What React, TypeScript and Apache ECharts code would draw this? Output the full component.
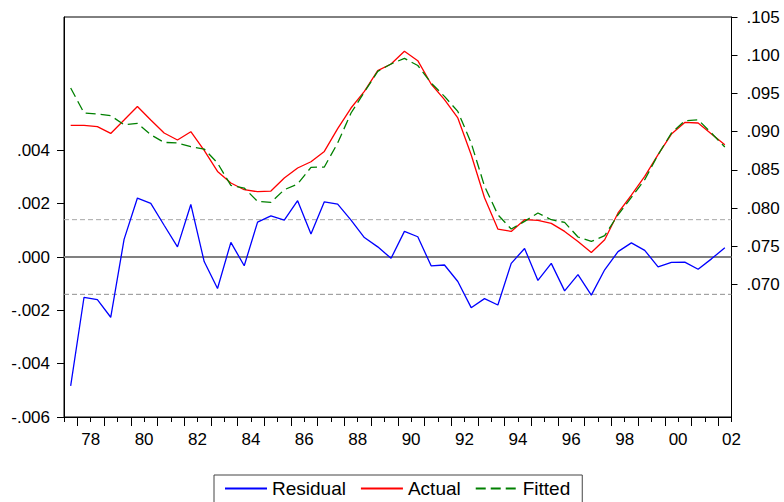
import React, { useEffect, useRef } from "react";
import * as echarts from "echarts";

const periods = [
  "1977H2", "1978H1", "1978H2", "1979H1", "1979H2", "1980H1", "1980H2", "1981H1", "1981H2", "1982H1",
  "1982H2", "1983H1", "1983H2", "1984H1", "1984H2", "1985H1", "1985H2", "1986H1", "1986H2", "1987H1",
  "1987H2", "1988H1", "1988H2", "1989H1", "1989H2", "1990H1", "1990H2", "1991H1", "1991H2", "1992H1",
  "1992H2", "1993H1", "1993H2", "1994H1", "1994H2", "1995H1", "1995H2", "1996H1", "1996H2", "1997H1",
  "1997H2", "1998H1", "1998H2", "1999H1", "1999H2", "2000H1", "2000H2", "2001H1", "2001H2", "2002H1",
];

const residual = [
  -0.00483, -0.00151, -0.0016, -0.00226, 0.00066, 0.00221, 0.00201, 0.00119, 0.00038, 0.00197,
  -0.00017, -0.00118, 0.00055, -0.00033, 0.00131, 0.00154, 0.00138, 0.00211, 0.00086, 0.00207,
  0.00198, 0.00138, 0.00073, 0.00038, -0.00005, 0.00096, 0.00076, -0.00033, -0.0003, -0.00092,
  -0.0019, -0.00156, -0.0018, -0.00024, 0.00032, -0.00088, -0.00024, -0.00127, -0.00066, -0.00143,
  -0.00048, 0.0002, 0.00053, 0.00025, -0.00037, -0.0002, -0.00019, -0.00046, -0.00007, 0.00035,
];

const actual = [
  0.09083, 0.09083, 0.09066, 0.08978, 0.09153, 0.09331, 0.09153, 0.08983, 0.08892, 0.09,
  0.08756, 0.08481, 0.0833, 0.08242, 0.08216, 0.08225, 0.08395, 0.08526, 0.08608, 0.08743,
  0.0904, 0.0931, 0.09527, 0.09798, 0.09886, 0.10053, 0.09929, 0.09624, 0.09419, 0.0918,
  0.087, 0.08138, 0.07728, 0.07697, 0.0785, 0.07841, 0.07802, 0.07697, 0.07566, 0.07422,
  0.07588, 0.07938, 0.0817, 0.08416, 0.087, 0.0897, 0.09122, 0.09114, 0.0897, 0.0883,
];

const fitted = [
  0.09572, 0.09245, 0.09232, 0.0921, 0.09092, 0.09109, 0.08961, 0.08861, 0.08853, 0.08804,
  0.08774, 0.08591, 0.08298, 0.08264, 0.08089, 0.08076, 0.08242, 0.08317, 0.08534, 0.08539,
  0.08853, 0.09245, 0.09519, 0.09789, 0.09886, 0.09959, 0.09866, 0.09637, 0.09462, 0.09266,
  0.08853, 0.08288, 0.07915, 0.07728, 0.07828, 0.07938, 0.0785, 0.07815, 0.07624, 0.07566,
  0.07641, 0.07915, 0.08141, 0.08373, 0.087, 0.08983, 0.09144, 0.09157, 0.08983, 0.088,
];

const leftTicks = [-0.006, -0.004, -0.002, 0.0, 0.002, 0.004];
const rightTicks = [0.07, 0.075, 0.08, 0.085, 0.09, 0.095, 0.1, 0.105];
const residualBand = 0.0014;
const axisStartYear = 1977.5;
const xMin = 0;
const xMax = 25;

const periodToX = (p: string) => {
  const year = parseInt(p.slice(0, 4), 10);
  const half = p.endsWith("H1") ? 0.25 : 0.75;
  return year + half - axisStartYear;
};

const fmt = (v: number) => {
  const s = v.toFixed(3);
  return s.replace("0.", ".");
};

const FONT = "'Liberation Sans', Arial, Helvetica, sans-serif";

export default function App() {
  const ref = useRef<HTMLDivElement>(null);
  useEffect(() => {
    if (!ref.current) return;
    const chart = echarts.init(ref.current, null, { renderer: "svg" });
    const xs = periods.map(periodToX);
    const refLine = (id: string, value: number, color: string, width: number, type: any) => ({
      id,
      name: id,
      type: "line",
      yAxisIndex: 0,
      data: [
        [xMin, value],
        [xMax, value],
      ],
      symbol: "none",
      silent: true,
      z: 2,
      lineStyle: { color, width, type },
      tooltip: { show: false },
    });
    const option: any = {
      animation: false,
      backgroundColor: "#ffffff",
      grid: {
        left: 64,
        right: 52.5,
        top: 17,
        bottom: 85,
        show: true,
        borderColor: "#000",
        borderWidth: 1,
        backgroundColor: "transparent",
      },
      legend: {
        left: 214,
        top: 475,
        orient: "horizontal",
        itemWidth: 42,
        itemHeight: 14,
        itemGap: 14,
        padding: [4, 12, 20, 10],
        borderColor: "#444",
        borderWidth: 1,
        itemStyle: { opacity: 0, borderWidth: 0 },
        textStyle: { fontFamily: FONT, fontSize: 19, color: "#000" },
        data: ["Residual", "Actual", "Fitted"],
      },
      xAxis: {
        type: "value",
        min: xMin,
        max: xMax,
        interval: 1,
        axisLine: { show: true, onZero: false, lineStyle: { color: "#000", width: 1 } },
        axisTick: { show: true, length: 5, lineStyle: { color: "#000", width: 1 } },
        minorTick: { show: true, splitNumber: 2, length: 9, lineStyle: { color: "#000", width: 1 } },
        splitLine: { show: false },
        minorSplitLine: { show: false },
        axisLabel: {
          margin: 14,
          fontFamily: FONT,
          fontSize: 17,
          color: "#000",
          showMinLabel: true,
          showMaxLabel: true,
          formatter: (v: number) => {
            const year = Math.floor(axisStartYear + v + 1e-6);
            return year % 2 === 0 ? String(year).slice(2) : "";
          },
        },
      },
      yAxis: [
        {
          type: "value",
          position: "left",
          min: -0.006,
          max: 0.009,
          interval: 0.002,
          axisLine: { show: true, onZero: false, lineStyle: { color: "#000", width: 1 } },
          axisTick: { show: true, length: 7, customValues: leftTicks, lineStyle: { color: "#000" } },
          splitLine: { show: false },
          axisLabel: {
            customValues: leftTicks,
            margin: 14,
            fontFamily: FONT,
            fontSize: 17,
            color: "#000",
            formatter: fmt,
          },
        },
        {
          type: "value",
          position: "right",
          min: 0.05271,
          max: 0.105,
          axisLine: { show: true, onZero: false, lineStyle: { color: "#000", width: 1 } },
          axisTick: { show: true, length: 6, customValues: rightTicks, lineStyle: { color: "#000" } },
          splitLine: { show: false },
          axisLabel: {
            customValues: rightTicks,
            margin: 15,
            fontFamily: FONT,
            fontSize: 17,
            color: "#000",
            formatter: fmt,
          },
        },
      ],
      series: [
        refLine("zeroLine", 0, "#808080", 2, "solid"),
        refLine("upperBand", residualBand, "#a8a8a8", 1, [5, 3]),
        refLine("lowerBand", -residualBand, "#909090", 1, [5, 3]),
        {
          name: "Residual",
          type: "line",
          yAxisIndex: 0,
          data: xs.map((x, i) => [x, residual[i]]),
          symbol: "none",
          lineStyle: { color: "#0000ff", width: 1.3 },
          itemStyle: { color: "#0000ff" },
          z: 3,
        },
        {
          name: "Actual",
          type: "line",
          yAxisIndex: 1,
          data: xs.map((x, i) => [x, actual[i]]),
          symbol: "none",
          lineStyle: { color: "#ff0000", width: 1.3 },
          itemStyle: { color: "#ff0000" },
          z: 4,
        },
        {
          name: "Fitted",
          type: "line",
          yAxisIndex: 1,
          data: xs.map((x, i) => [x, fitted[i]]),
          symbol: "none",
          lineStyle: { color: "#008000", width: 1.3, type: [10, 5] },
          itemStyle: { color: "#008000" },
          z: 5,
        },
      ],
    };
    chart.setOption(option);
    return () => chart.dispose();
  }, []);
  return (
    <div
      ref={ref}
      style={{ position: "fixed", left: 0, top: 0, width: 784, height: 502, background: "#fff" }}
    />
  );
}
